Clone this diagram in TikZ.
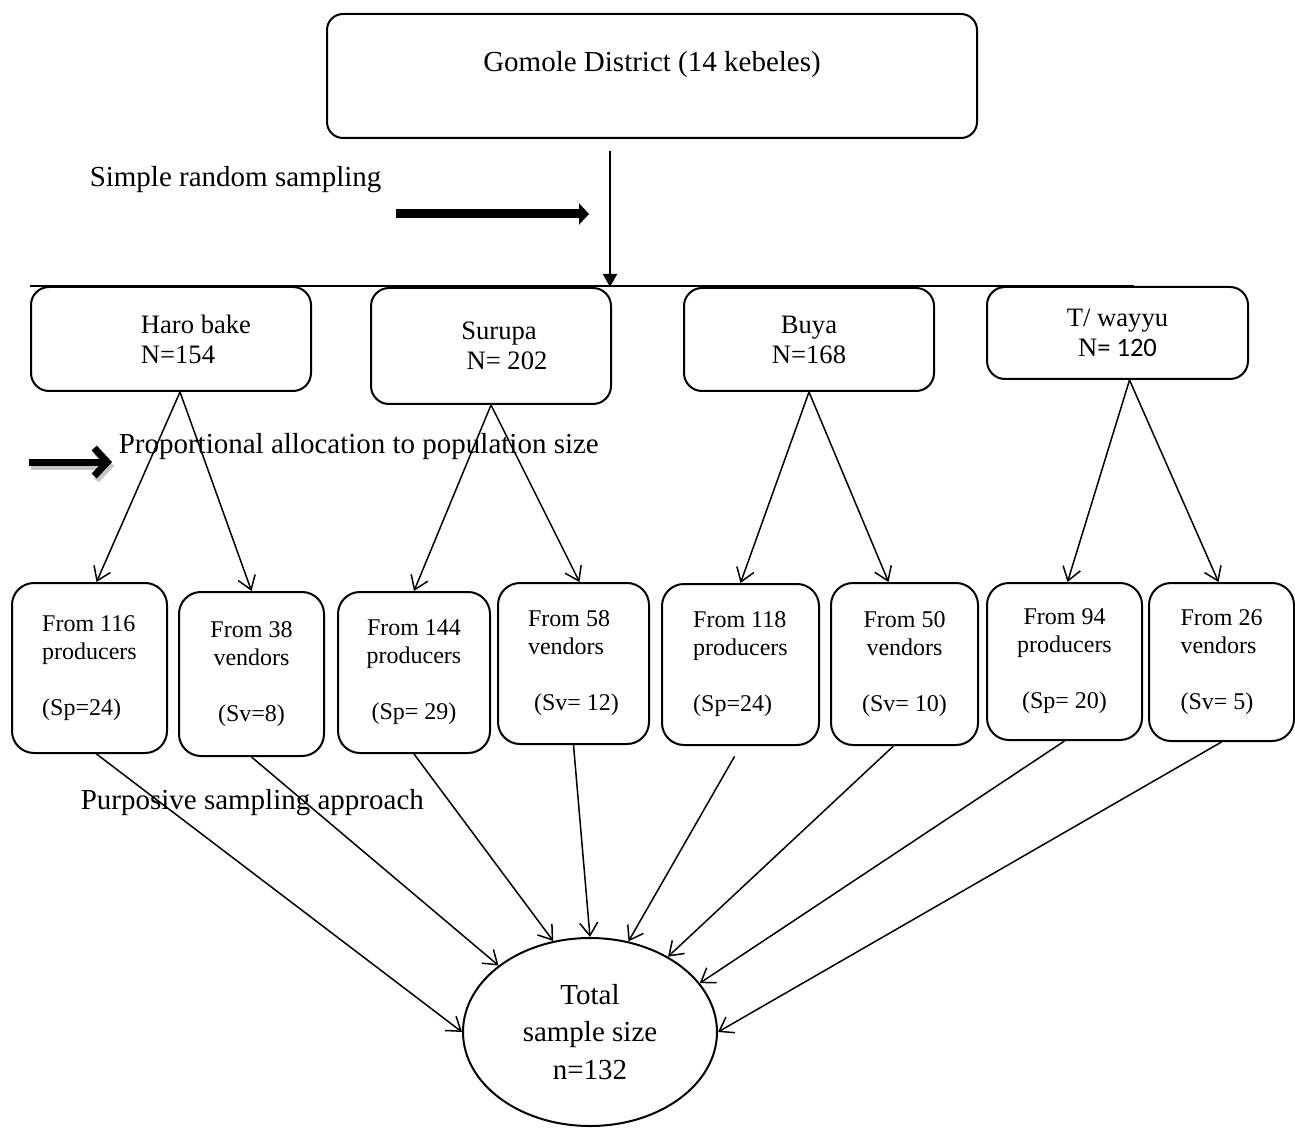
\documentclass[tikz,border=0pt]{standalone}
\usepackage{fontspec}
\setmainfont{Liberation Serif}
\newfontfamily\carlito{Carlito}
\usetikzlibrary{arrows.meta,shapes.geometric}

\begin{document}
\begin{tikzpicture}[x=0.5pt,y=-0.5pt,>={Straight Barb[length=6.5pt,width=9pt]},line width=0.75pt,
  district/.style={draw,line width=1pt,rounded corners=8pt,minimum width=325pt,minimum height=62pt,font=\fontsize{14.5}{17}\selectfont},
  kebele/.style={draw,line width=1pt,rounded corners=9pt,inner sep=0pt,font=\fontsize{13.3}{15}\selectfont},
  group/.style={draw,line width=1pt,rounded corners=11pt,inner sep=0pt,font=\fontsize{12}{14}\selectfont},
  note/.style={anchor=west,inner sep=0pt,font=\fontsize{14.5}{17}\selectfont},
  bold/.style={line width=4.5pt,-{Triangle[length=5pt,width=10.5pt]}}]
\useasboundingbox (0,0) rectangle (1295,1128);
%district
\node[district,text depth=15pt] (gomole) at (652,76) {Gomole District (14 kebeles)};
%simple random sampling
\node[note] (srs) at (89,180) {Simple random sampling};
\coordinate (srsa) at (396,214);
\coordinate (srsb) at (589,214);
\draw[bold] (srsa) -- (srsb);
%kebeles
\node[kebele,minimum width=140pt,minimum height=52pt,align=left] (haro) at (171,339) {\hspace*{25pt}Haro bake\\\hspace*{25pt}N=154};
\node[kebele,minimum width=120pt,minimum height=58pt,align=center] (surupa) at (491,346) {\hspace*{8pt}Surupa\\\hspace*{16pt}N= 202};
\node[kebele,minimum width=125pt,minimum height=51.5pt,align=center] (buya) at (809,339.5) {Buya\\N=168};
\node[kebele,minimum width=130.5pt,minimum height=46pt,align=center] (twayyu) at (1117.5,333) {T/ wayyu\\N{\carlito= 120}};
%bar and drop arrow
\coordinate (drop) at (610,287);
\draw[line width=1pt] (haro.north west) -- ([xshift=8pt]twayyu.north);
\draw[line width=1pt,-{Triangle[length=6.5pt,width=7pt]},shorten <=6pt] ([xshift=-21pt]gomole.south) -- (drop);
%proportional allocation
\node[note] (prop) at (118,447) {Proportional allocation to population size};
\coordinate (propa) at (29,462);
\coordinate (propb) at (112,462);
\draw[line width=3.5pt,gray!45,-{Straight Barb[length=6.5pt,width=14pt]}] ([shift={(2,4)}]propa) -- ([shift={(2,4)}]propb);
\draw[line width=3.5pt,-{Straight Barb[length=6.5pt,width=14pt]}] (propa) -- (propb);
%producers and vendors
\node[group,minimum width=77.5pt,minimum height=85pt,align=left] (p1) at (89.5,668) {From 116\\producers\\[14pt](Sp=24)};
\node[group,minimum width=72.5pt,minimum height=82pt,align=center] (v1) at (251.5,674) {From 38\\vendors\\[14pt](Sv=8)};
\node[group,minimum width=76pt,minimum height=80.5pt,align=center] (p2) at (414,672.5) {From 144\\producers\\[14pt](Sp= 29)};
\node[group,minimum width=75.5pt,minimum height=80.5pt,align=left] (v2) at (573.5,663.5) {From 58\\vendors\\[14pt]\hspace*{3pt}(Sv= 12)};
\node[group,minimum width=78.5pt,minimum height=80.5pt,align=left] (p3) at (740.5,664.5) {From 118\\producers\\[14pt](Sp=24)};
\node[group,minimum width=73.5pt,minimum height=81pt,align=center] (v3) at (904.5,664) {From 50\\vendors\\[14pt](Sv= 10)};
\node[group,minimum width=77.5pt,minimum height=78.5pt,align=center] (p4) at (1064.5,661.5) {From 94\\producers\\[14pt](Sp= 20)};
\node[group,minimum width=72.5pt,minimum height=79pt,align=left] (v4) at (1221.5,662) {From 26\\vendors\\[14pt](Sv= 5)};
%forks
\draw[->] ([xshift=4.5pt]haro.south) -- ([xshift=3.5pt]p1.north);
\draw[->] ([xshift=4.5pt]haro.south) -- (v1.north);
\draw[->] (surupa.south) -- (p2.north);
\draw[->] (surupa.south) -- ([xshift=3pt]v2.north);
\draw[->] (buya.south) -- (p3.north);
\draw[->] (buya.south) -- ([xshift=-8pt]v3.north);
\draw[->] ([xshift=6pt]twayyu.south) -- ([xshift=1.5pt]p4.north);
\draw[->] ([xshift=6pt]twayyu.south) -- ([xshift=-1.5pt]v4.north);
%purposive sampling
\node[note] (purp) at (80,803) {Purposive sampling approach};
%total
\node[draw,ellipse,line width=1pt,minimum width=127pt,minimum height=94pt,inner sep=0pt,align=center,font=\fontsize{14.5}{18.75}\selectfont] (tot) at (590,1032) {Total\\sample size\\n=132};
\draw[->] ([xshift=3.5pt]p1.south) -- (tot.west);
\draw[->] (v1.south) -- (tot.144);
\draw[->] (p2.south) -- (tot.112);
\draw[->] (v2.south) -- (tot.north);
\draw[->,shorten <=6pt] (p3.south) -- (tot.67);
\draw[->] ([xshift=-5.5pt]v3.south) -- (tot.44);
\draw[->] (p4.south) -- (tot.24);
\draw[->] (v4.south) -- (tot.east);
\end{tikzpicture}
\end{document}
